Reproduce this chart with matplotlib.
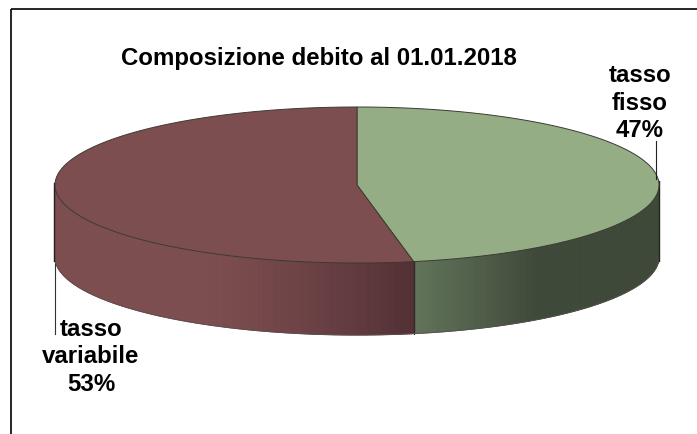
import numpy as np
import matplotlib
matplotlib.use("Agg")
from matplotlib import pyplot as plt
from matplotlib.colors import to_rgb

labels = ['tasso\nfisso\n47%', 'tasso\nvariabile\n53%']
shares = [47, 53]
top_colors = ['#94AD84', '#7D4E50']
title = 'Composizione debito al 01.01.2018'

# pie geometry in image pixels
cx, cy = 357, 186
a, b = 302, 78
depth = 72

plt.rcParams['font.family'] = ['Liberation Sans', 'DejaVu Sans']

fig = plt.figure(figsize=(6.97, 4.35), dpi=100)
ax = fig.add_axes([0, 0, 1, 1])
ax.set_xlim(0, 697)
ax.set_ylim(435, 0)
ax.axis('off')


def lerp(c1, c2, t):
    c1, c2 = np.array(to_rgb(c1)), np.array(to_rgb(c2))
    return tuple(c1 + (c2 - c1) * min(max(t, 0), 1))


def wall_color(x):
    # shading of the side wall, depends on screen x
    if x < split_x:
        return lerp('#7D4E50', '#523034', ((x - 200) / (split_x - 200)) ** 1.3 if x > 200 else 0)
    return lerp('#62745A', '#3E4939', (x - split_x) / 125)


# clockwise angle from the top of the pie
split = shares[0] / sum(shares) * 2 * np.pi
split_x = cx + a * np.sin(split)

# side wall, strip by strip along the front of the pie
t = np.linspace(np.pi / 2, 3 * np.pi / 2, 361)
for t0, t1 in zip(t[:-1], t[1:]):
    xs = cx + a * np.sin([t0, t1])
    ys = cy - b * np.cos([t0, t1])
    ax.fill([xs[0], xs[1], xs[1], xs[0]],
            [ys[0], ys[1], ys[1] + depth, ys[0] + depth],
            color=wall_color(xs.mean()), lw=0.8, zorder=2)
ax.plot([split_x, split_x], [cy - b * np.cos(split), cy - b * np.cos(split) + depth],
        color='#2E2A26', lw=0.8, zorder=3)

# lower outline of the wall
xs = cx + a * np.sin(t)
ys = cy - b * np.cos(t)
ax.plot(xs, ys + depth, color='#5A5050', lw=0.6, zorder=3)

# top faces
start = 0
for share, color in zip(shares, top_colors):
    span = share / sum(shares) * 2 * np.pi
    th = np.linspace(start, start + span, 300)
    px = np.concatenate([[cx], cx + a * np.sin(th)])
    py = np.concatenate([[cy], cy - b * np.cos(th)])
    ax.fill(px, py, facecolor=color, edgecolor='#3C3A34', lw=0.7, zorder=4)
    start += span

# dark notch on the left and right rim
ax.plot([53.5, 53.5], [184, 262], color='#2A1A1C', lw=1.0, zorder=3)
ax.plot([659, 659], [182, 262], color='#1F251B', lw=1.0, zorder=3)

# chart frame, only top and left are visible
ax.plot([10.5, 697], [9.5, 9.5], color='black', lw=1.2, zorder=1, solid_capstyle='butt')
ax.plot([10.5, 10.5], [9.5, 435], color='black', lw=1.2, zorder=1, solid_capstyle='butt')

# leader lines
ax.plot([655.5, 655.5], [142, 180], color='#222222', lw=0.8, zorder=5)
ax.plot([54.5, 54.5], [262, 335], color='#333333', lw=0.8, zorder=1)

ax.text(319, 58, title, ha='center', va='center', fontsize=17.3, fontweight='bold', color='black')
ax.text(640, 103, labels[0], ha='center', va='center', fontsize=17.3, fontweight='bold',
        color='black', linespacing=1.24)
ax.text(91, 357, labels[1], ha='center', va='center', fontsize=17.3, fontweight='bold',
        color='black', linespacing=1.24)

fig.savefig('out.png', dpi=100)
